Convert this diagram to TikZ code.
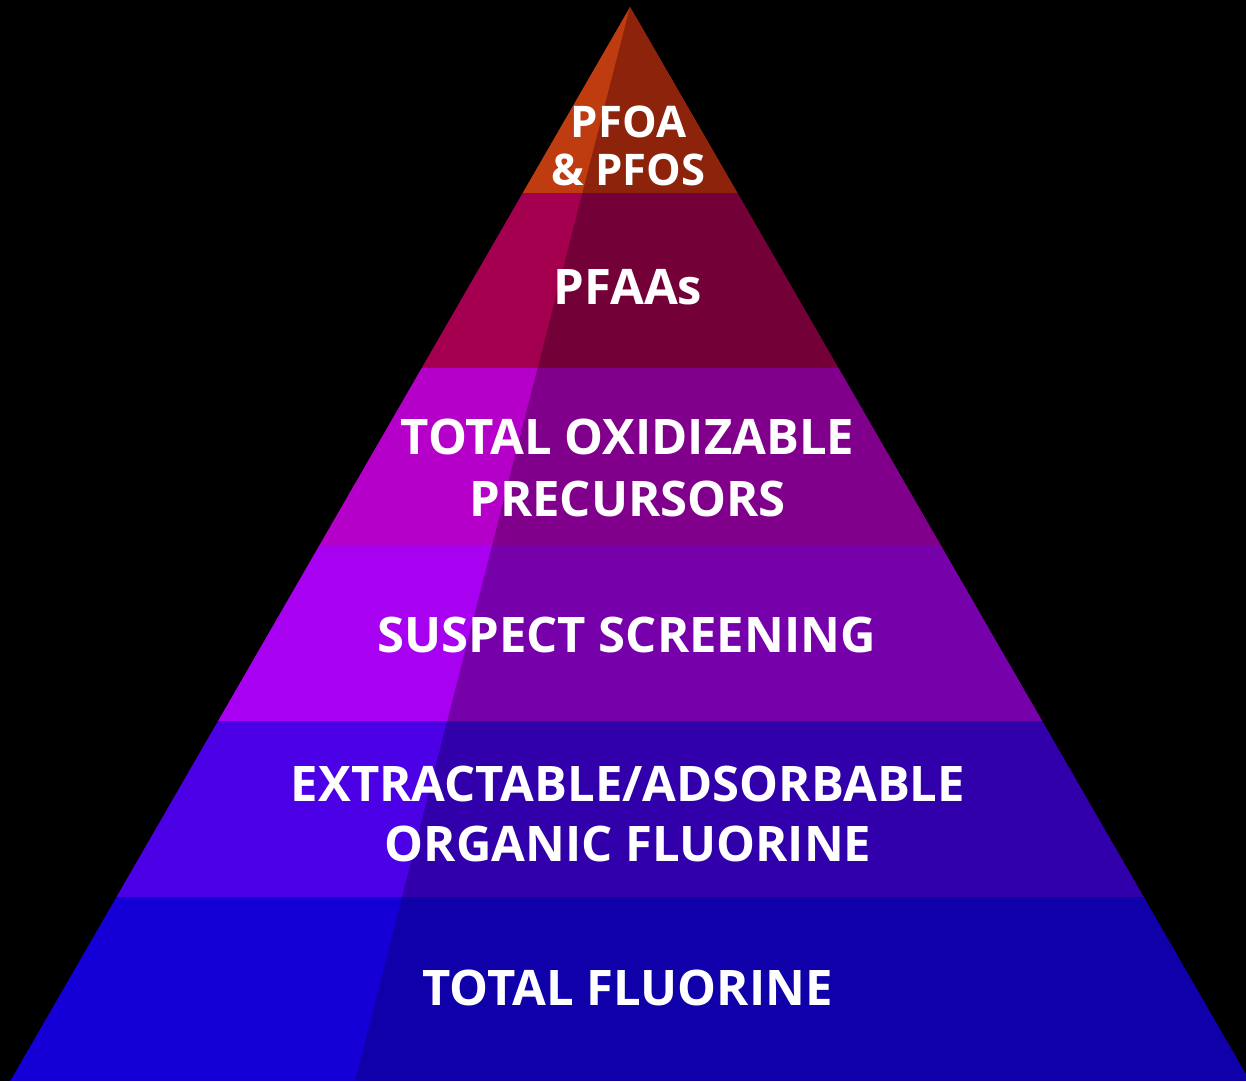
\documentclass[tikz,border=0pt]{standalone}
\usepackage{fontspec}
\setmainfont{Open Sans}
\usetikzlibrary{calc}
\definecolor{aL}{HTML}{BE3C0F}\definecolor{aR}{HTML}{8C230A}
\definecolor{bL}{HTML}{A5004F}\definecolor{bR}{HTML}{730037}
\definecolor{cL}{HTML}{B400C8}\definecolor{cR}{HTML}{80008C}
\definecolor{dL}{HTML}{A800F0}\definecolor{dR}{HTML}{7600AA}
\definecolor{eL}{HTML}{4B00E6}\definecolor{eR}{HTML}{3200AA}
\definecolor{fL}{HTML}{1400D7}\definecolor{fR}{HTML}{0F00AA}
\tikzset{
  lbl/.style={text=white, font=\bfseries\fontsize{24.5}{30}\selectfont, align=center, inner sep=0pt}
}
\begin{document}
\begin{tikzpicture}[x=0.5pt,y=-0.5pt]
\useasboundingbox (0,0) rectangle (1246,1081);
\fill[black] (0,0) rectangle (1246,1081);
\coordinate (apex) at (630,7);
\coordinate (bl) at (10.3,1081);
\coordinate (br) at (1249.7,1081);
\coordinate (bd) at (355,1081);
\begin{scope}
  \clip (0,0) rectangle (1246,1081);
  \begin{scope}
    \clip (apex) -- (bl) -- (br) -- cycle;
    \fill[aL] (0,0) rectangle (1246,193);
    \fill[bL] (0,193) rectangle (1246,368);
    \fill[cL] (0,368) rectangle (1246,545);
    \fill[dL] (0,545) rectangle (1246,721);
    \fill[eL] (0,721) rectangle (1246,897);
    \fill[fL] (0,897) rectangle (1246,1081);
  \end{scope}
  \begin{scope}
    \clip (apex) -- (bd) -- (br) -- cycle;
    \fill[aR] (0,0) rectangle (1246,193);
    \fill[bR] (0,193) rectangle (1246,368);
    \fill[cR] (0,368) rectangle (1246,545);
    \fill[dR] (0,545) rectangle (1246,721);
    \fill[eR] (0,721) rectangle (1246,897);
    \fill[fR] (0,897) rectangle (1246,1081);
  \end{scope}
\end{scope}
\node[lbl, font=\bfseries\fontsize{21.8}{24}\selectfont] (pfoa) at (628.5,146) {PFOA\\\& PFOS};
\node[lbl] (pfaa) at (628,287) {PFAAs};
\node[lbl, font=\bfseries\fontsize{24.5}{31}\selectfont] (top) at (627.5,467.5) {TOTAL OXIDIZABLE\\PRECURSORS};
\node[lbl] (ss) at (626.5,635) {SUSPECT SCREENING};
\node[lbl, font=\bfseries\fontsize{24.5}{30}\selectfont] (eaof) at (628,813.5) {EXTRACTABLE/ADSORBABLE\\ORGANIC FLUORINE};
\node[lbl] (tf) at (627.5,987.5) {TOTAL FLUORINE};
\end{tikzpicture}
\end{document}
